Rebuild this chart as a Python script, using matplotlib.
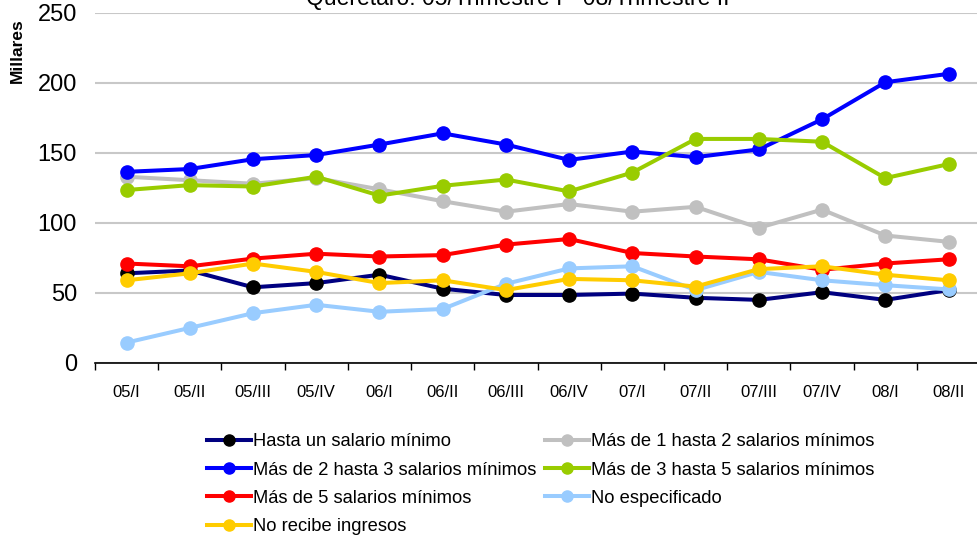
import matplotlib
matplotlib.use("Agg")
import matplotlib.pyplot as plt
import numpy as np

plt.rcParams["font.family"] = ["Liberation Sans", "DejaVu Sans"]

# ---- data ------------------------------------------------------------------

periods = ["05/I", "05/II", "05/III", "05/IV", "06/I", "06/II", "06/III",
           "06/IV", "07/I", "07/II", "07/III", "07/IV", "08/I", "08/II"]

hasta_1   = [64, 66, 54, 57, 63, 53, 48.5, 48.5, 49.5, 46.5, 45, 50.5, 45, 52]
de_1_a_2  = [133, 130.5, 128, 132, 124, 115.5, 108, 113.5, 108, 111.5, 96.5, 109.5, 91, 86.5]
de_2_a_3  = [136.5, 138.5, 145.5, 148.5, 156, 164, 156, 145, 151, 147, 152.5, 174, 200.5, 206.5]
de_3_a_5  = [123.5, 127, 126, 133, 119.5, 126.5, 131, 122.5, 136, 160, 160, 158, 132, 142]
mas_5     = [71, 69, 74.5, 78, 76, 77, 84.5, 88.5, 78.5, 76, 74, 66.5, 71, 74]
no_espec  = [14.5, 25, 35.5, 41.5, 36.5, 38.5, 56.5, 67.5, 69, 52, 65, 59, 55.5, 52.5]
no_recibe = [59, 64, 71, 65, 57, 59, 52, 60, 59, 54.5, 67, 69, 63, 59]

series = [
    ("Hasta un salario mínimo",          hasta_1,   "#000080", "#000000"),
    ("Más de 1 hasta 2 salarios mínimos", de_1_a_2,  "#C0C0C0", "#C0C0C0"),
    ("Más de 2 hasta 3 salarios mínimos", de_2_a_3,  "#0000FF", "#0000FF"),
    ("Más de 3 hasta 5 salarios mínimos", de_3_a_5,  "#99CC00", "#99CC00"),
    ("Más de 5 salarios mínimos",         mas_5,     "#FF0000", "#FF0000"),
    ("No especificado",                   no_espec,  "#99CCFF", "#99CCFF"),
    ("No recibe ingresos",                no_recibe, "#FFCC00", "#FFCC00"),
]

# ---- figure ----------------------------------------------------------------

fig = plt.figure(figsize=(9.77, 5.40), dpi=100)
ax = fig.add_axes([0.0972, 0.328, 0.906, 0.648])

x = np.arange(len(periods))
lines = {}
for label, vals, lc, mc in series:
    (ln,) = ax.plot(x, vals, color=lc, lw=2.9, marker="o", ms=9.5,
                    mfc=mc, mec=mc, label=label, solid_joinstyle="round")
    lines[label] = ln

ax.set_xlim(-0.5, len(periods) - 0.5)
ax.set_ylim(0, 250)
ax.set_yticks(np.arange(0, 251, 50))
ax.set_xticks(x)
ax.set_xticklabels(periods, fontsize=12)
ax.set_xticks(np.arange(-0.5, len(periods), 1.0), minor=True)
ax.tick_params(axis="x", which="major", length=0, pad=16)
ax.tick_params(axis="x", which="minor", length=5, width=1, direction="out")
ax.tick_params(axis="y", length=0, pad=13, labelsize=17)

for s in ["top", "right", "left"]:
    ax.spines[s].set_visible(False)
ax.spines["bottom"].set_linewidth(1.2)
ax.spines["bottom"].set_zorder(5)

ax.grid(axis="y", color="#C8C8C8", lw=1.5)
ax.set_axisbelow(True)

# y-axis label and (clipped) title
fig.text(17.5 / 977, 1 - 51 / 540, "Millares", rotation=90, fontsize=12.5,
         fontweight="bold", ha="center", va="center")
fig.text(518 / 977, 1 - 5 / 540, "Querétaro: 05/Trimestre I - 08/Trimestre II",
         fontsize=16.5, ha="center", va="baseline")

# legend, row-wise order like the original
order = [series[0][0], series[2][0], series[4][0], series[6][0],
         series[1][0], series[3][0], series[5][0]]
leg = fig.legend([lines[k] for k in order], order, ncol=2, frameon=False,
                 loc="upper left", bbox_to_anchor=(198 / 977, 1 - 424 / 540),
                 fontsize=13.2, handlelength=2.4, handletextpad=0.12,
                 labelspacing=0.62, columnspacing=0.45, borderpad=0)
for h in leg.legend_handles:
    h.set_markersize(8)

fig.savefig("out.png", dpi=100)
